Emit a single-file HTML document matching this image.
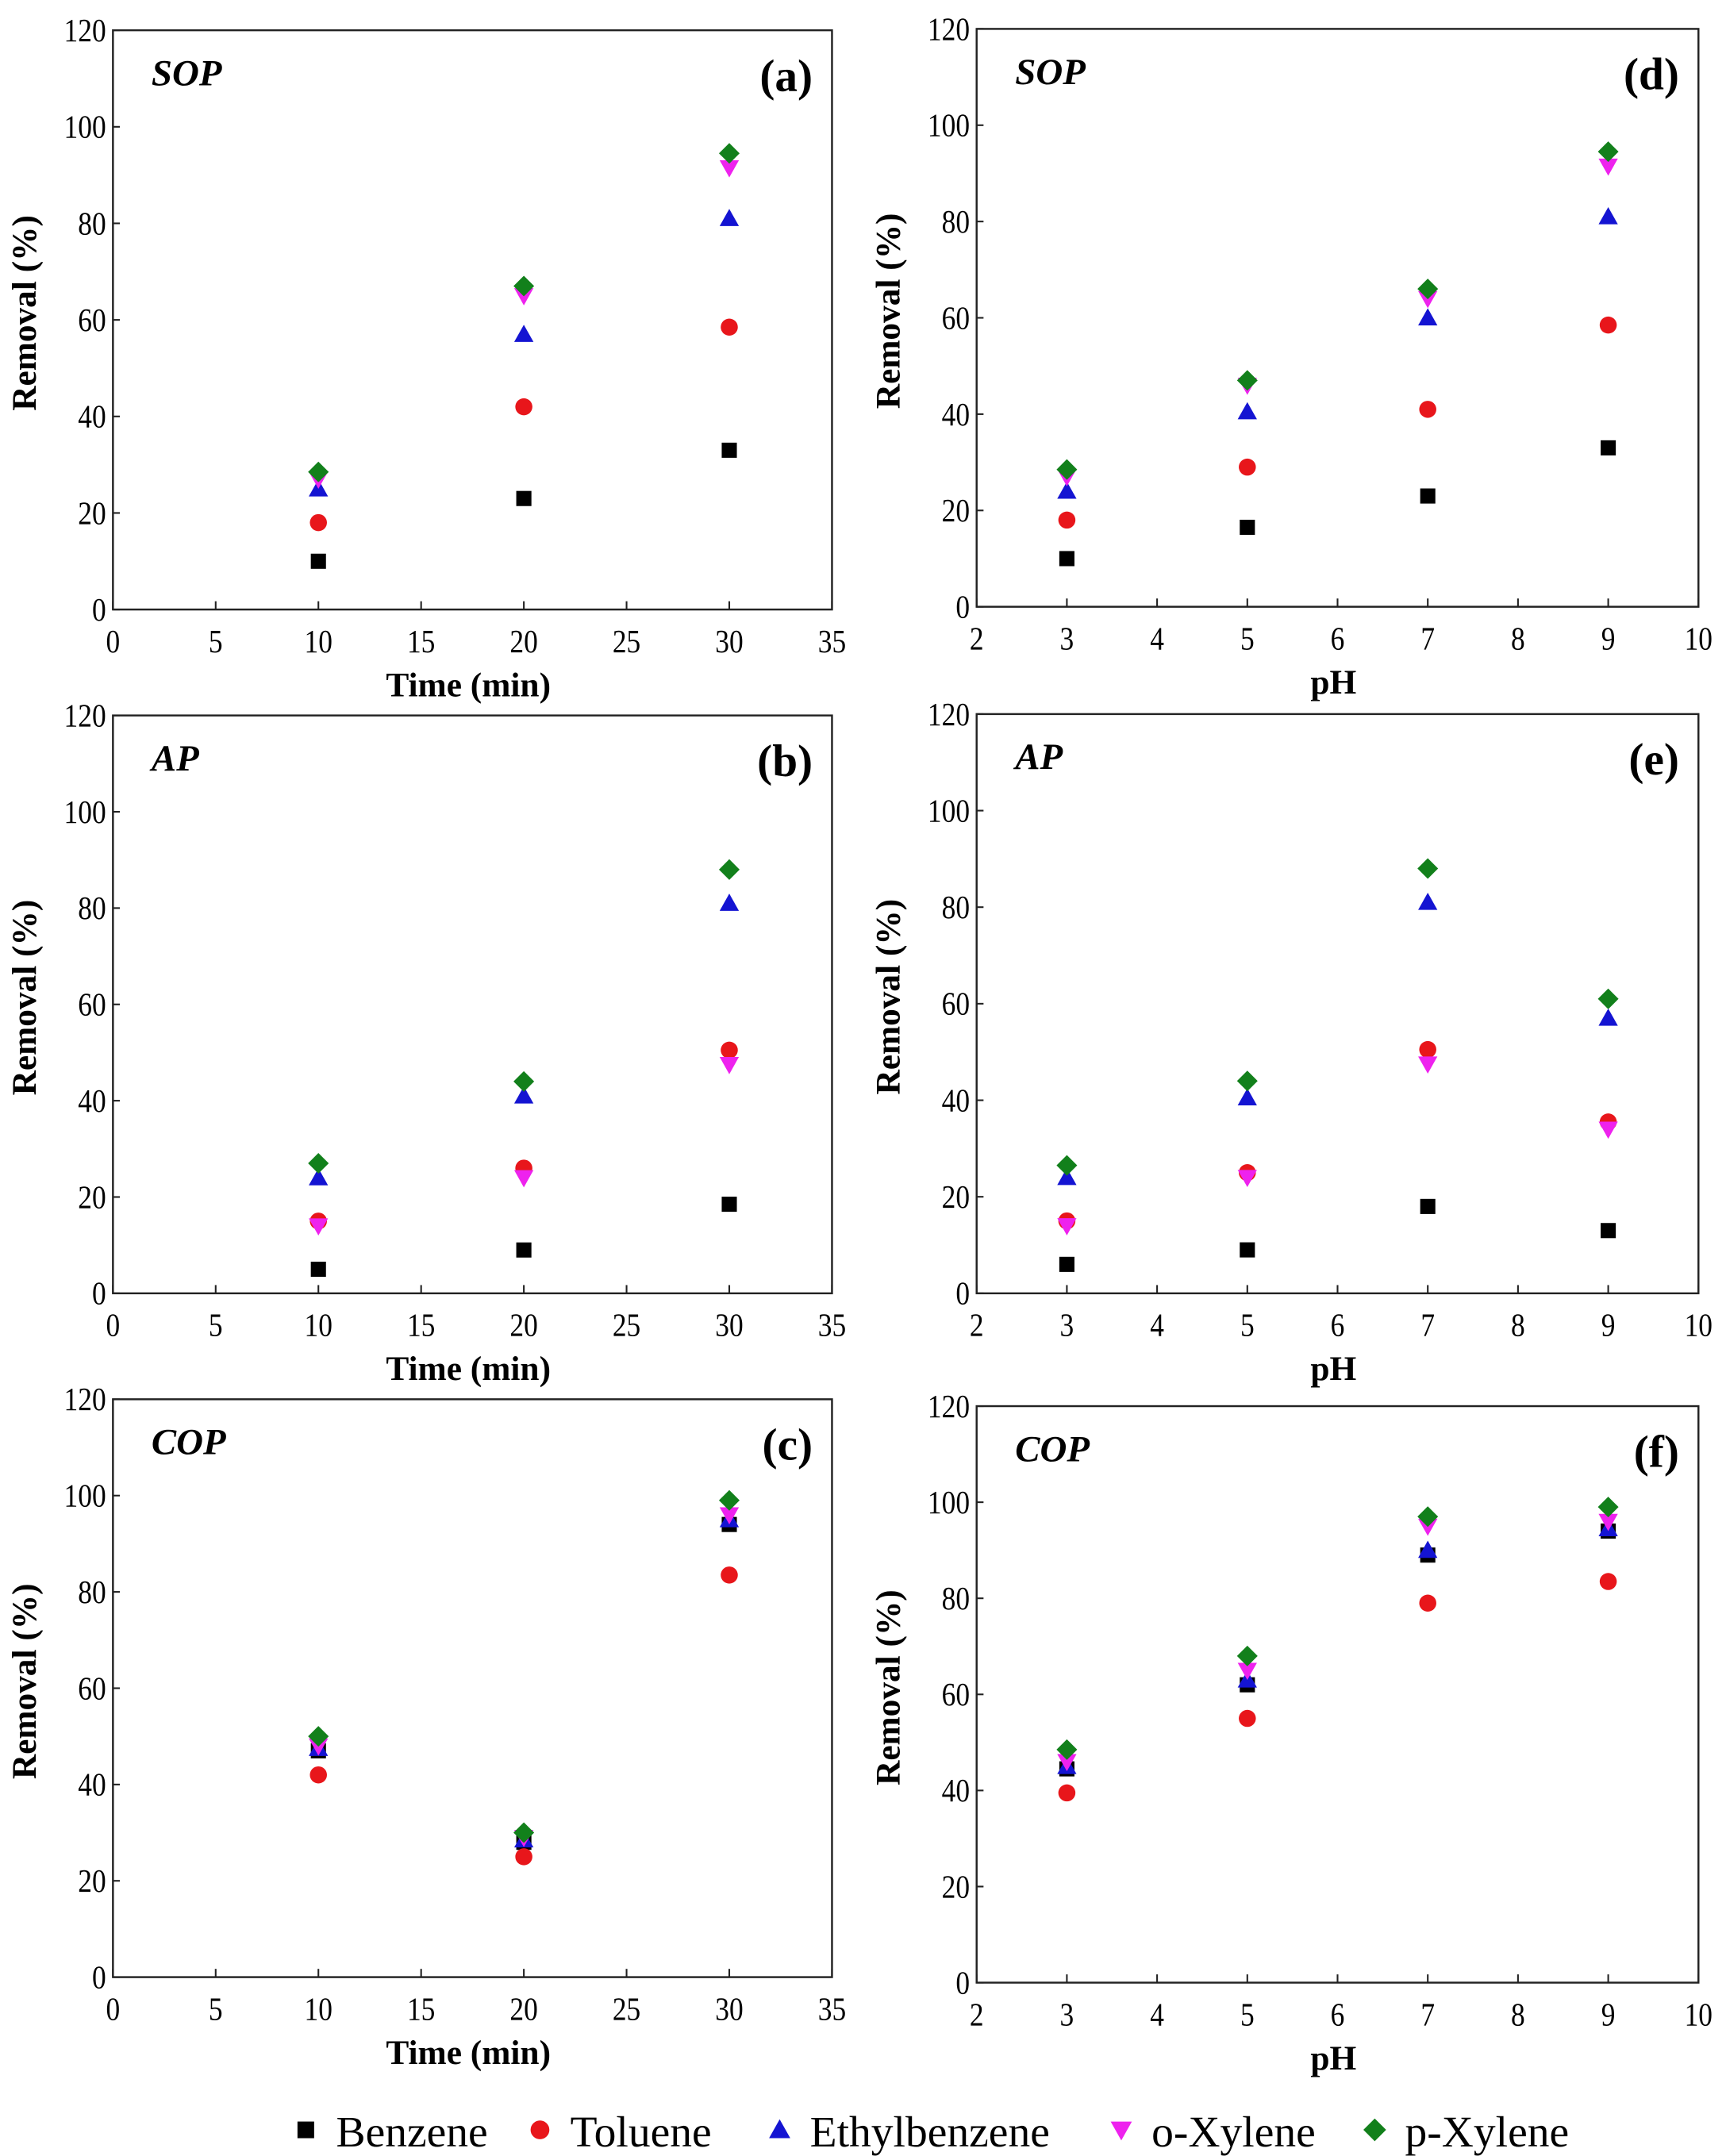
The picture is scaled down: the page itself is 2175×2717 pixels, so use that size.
<!DOCTYPE html>
<html><head><meta charset="utf-8"><style>
html,body{margin:0;padding:0;background:#fff;}
svg{display:block;}
text{font-family:"Liberation Serif",serif;fill:#000;}
</style></head><body>
<svg id="fig" width="2175" height="2717" viewBox="0 0 1253 1567" preserveAspectRatio="none" xmlns="http://www.w3.org/2000/svg"></svg>
<script>
const timeCats=[10,20,30];
const phCats=[3,5,7,9];
const yTicks=[0,20,40,60,80,100,120];
const timeTicks=[0,5,10,15,20,25,30,35];
const phTicks=[2,3,4,5,6,7,8,9,10];
const seriesNames=["Benzene","Toluene","Ethylbenzene","o-Xylene","p-Xylene"];
// panel a (SOP, time)
const aBenzene=[10,23,33], aToluene=[18,42,58.5], aEthyl=[25,57,81], aOX=[27,65,91.5], aPX=[28.5,67,94.5];
// panel b (AP, time)
const bBenzene=[5,9,18.5], bToluene=[15,26,50.5], bEthyl=[24,41,81], bOX=[14,24,47.5], bPX=[27,44,88];
// panel c (COP, time)
const cBenzene=[47,28,94], cToluene=[42,25,83.5], cEthyl=[47.5,28.5,95], cOX=[48,29,96], cPX=[50,30,99];
// panel d (SOP, pH)
const dBenzene=[10,16.5,23,33], dToluene=[18,29,41,58.5], dEthyl=[24,40.5,60,81], dOX=[27,46,64,91.5], dPX=[28.5,47,66,94.5];
// panel e (AP, pH)
const eBenzene=[6,9,18,13], eToluene=[15,25,50.5,35.5], eEthyl=[24,40.5,81,57], eOX=[14,24,47.5,34], ePX=[26.5,44,88,61];
// panel f (COP, pH)
const fBenzene=[44.5,62,89,94], fToluene=[39.5,55,79,83.5], fEthyl=[45,63,90,94.5], fOX=[46,65,95,96], fPX=[48.5,68,97,99];

const NS="http://www.w3.org/2000/svg";
const svg=document.getElementById('fig');
function el(tag,attrs,parent){const e=document.createElementNS(NS,tag);for(const k in attrs)e.setAttribute(k,attrs[k]);(parent||svg).appendChild(e);return e;}
function txt(s,attrs,parent){const e=el('text',attrs,parent);e.textContent=s;return e;}

const colors=["#000000","#e8161b","#1414d2","#ee22ee","#12801b"];
function marker(g,k,x,y,s){
  let m;
  if(k===0){m=el('rect',{x:x-5.5*s,y:y-5.5*s,width:11*s,height:11*s,fill:colors[0]},g);}
  else if(k===1){m=el('circle',{cx:x,cy:y,r:6.2*s,fill:colors[1]},g);}
  else if(k===2){m=el('polygon',{points:`${x},${y-7*s} ${x+7*s},${y+5.5*s} ${x-7*s},${y+5.5*s}`,fill:colors[2]},g);}
  else if(k===3){m=el('polygon',{points:`${x-7*s},${y-5.5*s} ${x+7*s},${y-5.5*s} ${x},${y+7*s}`,fill:colors[3]},g);}
  else {m=el('polygon',{points:`${x},${y-7.5*s} ${x+7.5*s},${y} ${x},${y+7.5*s} ${x-7.5*s},${y}`,fill:colors[4]},g);}
  return m;
}

const panels=[
 {id:'a',tag:'SOP',L:82,R:604,T:22,B:443,xmin:0,xmax:35,ticks:timeTicks,cats:timeCats,data:[aBenzene,aToluene,aEthyl,aOX,aPX],xt:'Time (min)'},
 {id:'b',tag:'AP',L:82,R:604,T:520,B:940,xmin:0,xmax:35,ticks:timeTicks,cats:timeCats,data:[bBenzene,bToluene,bEthyl,bOX,bPX],xt:'Time (min)'},
 {id:'c',tag:'COP',L:82,R:604,T:1017,B:1437,xmin:0,xmax:35,ticks:timeTicks,cats:timeCats,data:[cBenzene,cToluene,cEthyl,cOX,cPX],xt:'Time (min)'},
 {id:'d',tag:'SOP',L:709,R:1233,T:21,B:441,xmin:2,xmax:10,ticks:phTicks,cats:phCats,data:[dBenzene,dToluene,dEthyl,dOX,dPX],xt:'pH'},
 {id:'e',tag:'AP',L:709,R:1233,T:519,B:940,xmin:2,xmax:10,ticks:phTicks,cats:phCats,data:[eBenzene,eToluene,eEthyl,eOX,ePX],xt:'pH'},
 {id:'f',tag:'COP',L:709,R:1233,T:1022,B:1441,xmin:2,xmax:10,ticks:phTicks,cats:phCats,data:[fBenzene,fToluene,fEthyl,fOX,fPX],xt:'pH'}
];

panels.forEach(p=>{
  const g=el('g',{});
  
  
  const xs=v=>p.L+(v-p.xmin)/(p.xmax-p.xmin)*(p.R-p.L);
  const ys=v=>p.B-(v/120)*(p.B-p.T);
  const fr=el('rect',{x:p.L,y:p.T,width:p.R-p.L,height:p.B-p.T,fill:'none',stroke:'#222',"stroke-width":1.4},g);
  
  
  p.ticks.forEach(t=>{
    const x=xs(t);
    el('line',{x1:x,y1:p.B,x2:x,y2:p.B-6,stroke:'#222',"stroke-width":1.2},g);
    const lb=txt(String(t),{x:0,y:0,"font-size":24,"text-anchor":"middle",transform:`translate(${x} ${p.B+31}) scale(0.85 1)`},g);
    
    
  });
  yTicks.forEach(t=>{
    const y=ys(t);
    el('line',{x1:p.L,y1:y,x2:p.L+5,y2:y,stroke:'#222',"stroke-width":1.2},g);
    const lb=txt(String(t),{x:0,y:0,"font-size":24,"text-anchor":"end",transform:`translate(${p.L-5} ${y+8}) scale(0.85 1)`},g);
    
    
  });
  const xtl=txt(p.xt,{x:(p.L+p.R)/2-3,y:p.B+63,"font-size":25,"font-weight":"bold","text-anchor":"middle"},g);
  
  
  const cy=(p.T+p.B)/2-5, cx=p.L-56;
  const ytl=txt('Removal (%)',{x:cx,y:cy,"font-size":25,"font-weight":"bold","text-anchor":"middle",transform:`rotate(-90 ${cx} ${cy})`},g);
  
  
  const tg=txt(p.tag,{x:p.L+28,y:p.T+40,"font-size":27,"font-weight":"bold","font-style":"italic"},g);
  
  
  const pl=txt('('+p.id+')',{x:p.R-14,y:p.T+44,"font-size":33,"font-weight":"bold","text-anchor":"end"},g);
  
  
  p.data.forEach((arr,k)=>{
    arr.forEach((v,i)=>{
      const m=marker(g,k,xs(p.cats[i]),ys(v),1);
      
      
    });
  });
});

// legend
const lg=el('g',{});


const legX=[222,392,566,814,998];
seriesNames.forEach((n,k)=>{
  const m=marker(lg,k,legX[k],1548,1.1);
  
  
  const t=txt(n,{x:legX[k]+22,y:1560,"font-size":32},lg);
  
  
});
</script>
</body></html>
